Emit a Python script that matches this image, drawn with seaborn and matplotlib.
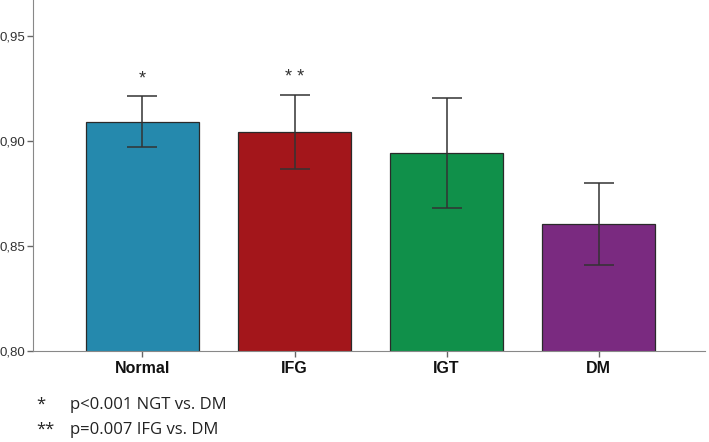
import numpy as np
import matplotlib
matplotlib.use("Agg")
import matplotlib.pyplot as plt
import seaborn as sns

groups = ["Normal", "IFG", "IGT", "DM"]
means = [0.909, 0.904, 0.894, 0.8605]
ci_low = [0.897, 0.8867, 0.868, 0.841]
ci_high = [0.9214, 0.922, 0.9205, 0.8798]
stars = ["*", "* *", "", ""]
colors = ["#2589ad", "#a3161b", "#10904a", "#7a2a80"]
yticks = [0.80, 0.85, 0.90, 0.95]
notes = [("*", "p<0.001 NGT vs. DM"), ("**", "p=0.007 IFG vs. DM")]

sns.set_style("ticks")
plt.rcParams['font.family'] = ['Liberation Sans', 'DejaVu Sans']

fig = plt.figure(figsize=(7.09, 4.42), dpi=100)
ax = fig.add_axes([33/709, 1 - 351/442, 672/709, 351/442])

sns.barplot(x=groups, y=means, hue=groups, palette=colors, legend=False,
            saturation=1, width=0.745, edgecolor="#2a2a2a", linewidth=0.9, ax=ax)

x = np.arange(len(groups))
m = np.array(means)
err = [m - np.array(ci_low), np.array(ci_high) - m]
ax.errorbar(x, m, yerr=err, fmt="none", ecolor="#333333", elinewidth=1.1,
            capsize=10.8, capthick=1.1)

for i, s in enumerate(stars):
    if s:
        ax.text(i, ci_high[i] + 0.004, s, ha="center", va="bottom",
                fontsize=13, color="#333333")

ax.set_ylim(0.80, 0.967)
ax.set_xlim(-0.72, 3.70)
ax.set_yticks(yticks)
ax.set_yticklabels([f"{v:.2f}".replace(".", ",") for v in yticks],
                   fontsize=9.5, color="#333333")
ax.set_xticks(x)
ax.set_xticklabels(groups, fontsize=11.5, fontweight="bold", color="#111111")
ax.tick_params(axis="both", length=4, color="#666666", width=1)
ax.tick_params(axis="y", pad=1.5)
for side in ["top", "right"]:
    ax.spines[side].set_visible(False)
for side in ["left", "bottom"]:
    ax.spines[side].set_color("#888888")

for j, (sym, txt) in enumerate(notes):
    yy = 1 - (405 + 25 * j) / 442
    fig.text(36/709, yy, sym, fontsize=12, va="center", family="Open Sans", color="#222222")
    fig.text(70/709, yy, txt, fontsize=12, va="center", family="Open Sans", color="#222222")

fig.savefig("out.png", dpi=100)
